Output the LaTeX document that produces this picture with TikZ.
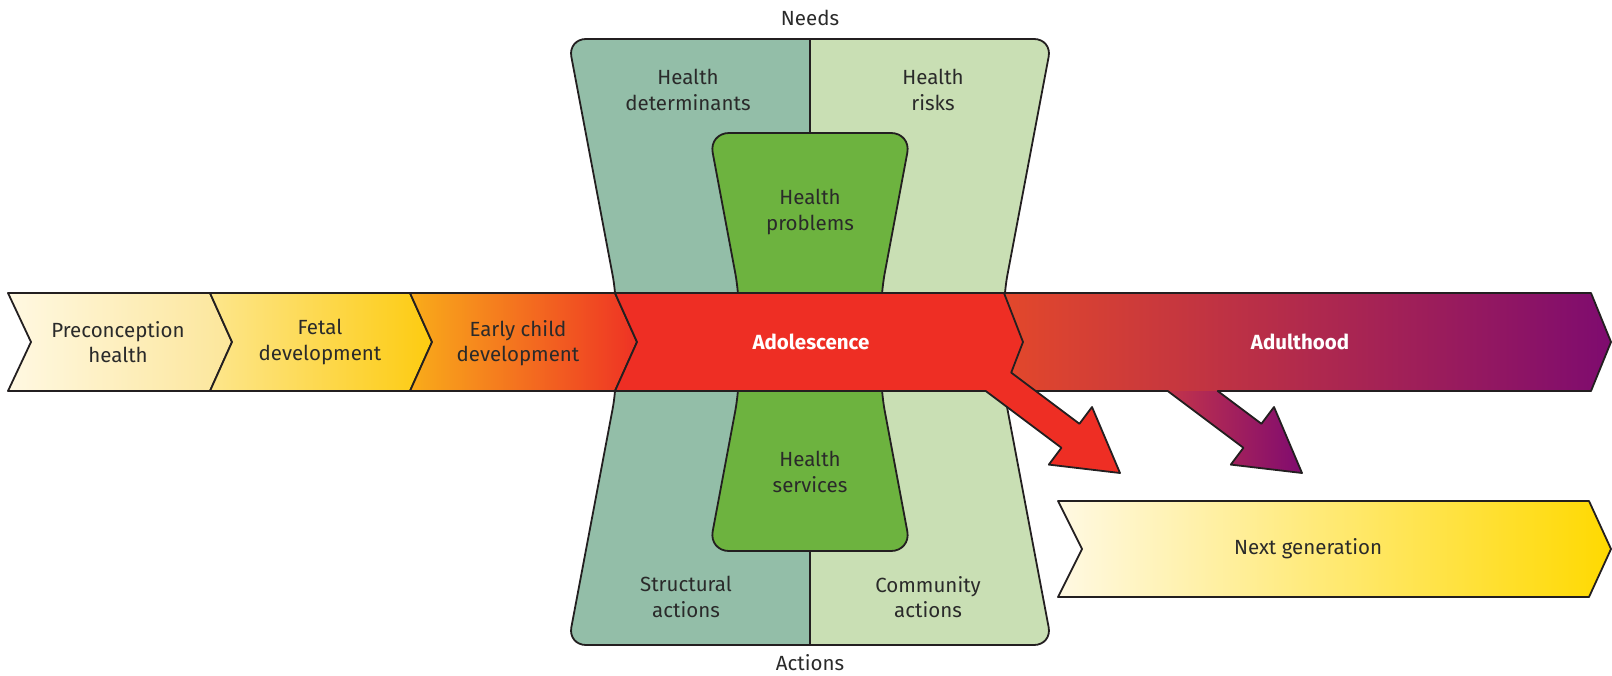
\documentclass[tikz,border=0pt]{standalone}
\usepackage{fontspec}
\setmainfont{Fira Sans}
\definecolor{lineclr}{HTML}{231F20}
\definecolor{txt}{HTML}{2A2A2A}
\definecolor{dgreen}{HTML}{93BEA8}
\definecolor{lgreen}{HTML}{C9DFB4}
\definecolor{mgreen}{HTML}{6DB33F}
\definecolor{adored}{HTML}{EE2E24}
\definecolor{pc1}{HTML}{FFF8E2}
\definecolor{pc2}{HTML}{FCE69A}
\definecolor{fe1}{HTML}{FDE68C}
\definecolor{fe2}{HTML}{FFDC0A}
\definecolor{fe3}{HTML}{FDCB10}
\definecolor{ec1}{HTML}{F9AC1A}
\definecolor{ec2}{HTML}{F28223}
\definecolor{ec3}{HTML}{EE3224}
\definecolor{ad1}{HTML}{E3482B}
\definecolor{ad2}{HTML}{AE2A58}
\definecolor{ad3}{HTML}{7E0B6F}
\definecolor{pa1}{HTML}{C3344B}
\definecolor{pa2}{HTML}{800B6F}
\definecolor{ng1}{HTML}{FFF9E3}
\definecolor{ng2}{HTML}{FDEA98}
\definecolor{ng3}{HTML}{FFD900}
\begin{document}
\begin{tikzpicture}[x=1pt,y=-1pt,
  outline/.style={draw=lineclr, line width=1.8pt, line join=round},
  lbl/.style={font=\fontsize{20.5}{25.5}\selectfont, text=txt, align=center, inner sep=0pt},
  wlbl/.style={font=\fontsize{20.5}{25.5}\selectfont\bfseries, text=white, align=center, inner sep=0pt}]
\useasboundingbox (0,0) rectangle (1612,675);

% ---------- hourglass (needs / actions) ----------
\def\outershape{(568,39) -- (1052,39) -- (1004,293) -- (1004,391) -- (1052,645) -- (568,645) -- (616,391) -- (616,293) -- cycle}
\def\innershape{(709,133) -- (911,133) -- (881,293) -- (881,391) -- (911,551) -- (709,551) -- (739,391) -- (739,293) -- cycle}
\path[fill=lgreen, rounded corners=18] \outershape;
\begin{scope}
  \clip (0,0) rectangle (810,675);
  \path[fill=dgreen, rounded corners=18] \outershape;
\end{scope}
\draw[lineclr, line width=1.5pt] (810,39) -- (810,133);
\draw[lineclr, line width=1.5pt] (810,551) -- (810,645);
\draw[outline, rounded corners=18] \outershape;
\draw[outline, fill=mgreen, rounded corners=20] \innershape;

% ---------- life-course band ----------
\draw[outline, left color=pc1, right color=pc2]
  (8,293) -- (210,293) -- (232,342) -- (210,391) -- (8,391) -- (31,342) -- cycle;
\draw[outline, left color=fe1, middle color=fe2, right color=fe3]
  (210,293) -- (410,293) -- (432,342) -- (410,391) -- (210,391) -- (232,342) -- cycle;
\draw[outline, left color=ec1, middle color=ec2, right color=ec3]
  (410,293) -- (615,293) -- (637,342) -- (615,391) -- (410,391) -- (432,342) -- cycle;

% adulthood + its arrow
\path[left color=ad1, middle color=ad2, right color=ad3]
  (1004,293) -- (1591,293) -- (1611,342) -- (1591,391) -- (1004,391) -- (1023,342) -- cycle;
\path[left color=pa1, right color=pa2]
  (1167.7,391) -- (1243.4,447.8) -- (1230.8,464.6) -- (1302,473) -- (1274,407)
  -- (1261.4,423.8) -- (1217.7,391) -- cycle;
\draw[outline]
  (1004,293) -- (1591,293) -- (1611,342) -- (1591,391) -- (1217.7,391)
  -- (1261.4,423.8) -- (1274,407) -- (1302,473) -- (1230.8,464.6)
  -- (1243.4,447.8) -- (1167.7,391) -- (1035,391);

% adolescence + its arrow
\draw[outline, fill=adored]
  (615,293) -- (1004,293) -- (1023,342) -- (1011.2,372.6) -- (1079.4,423.8)
  -- (1092,407) -- (1120,473) -- (1048.8,464.6) -- (1061.4,447.8)
  -- (985.7,391) -- (615,391) -- (637,342) -- cycle;

% next generation
\draw[outline, left color=ng1, middle color=ng2, right color=ng3]
  (1058,501) -- (1589,501) -- (1611,549) -- (1589,597) -- (1058,597) -- (1082,549) -- cycle;

% ---------- labels ----------
\node[lbl] (needs) at (810,18) {Needs};
\node[lbl] (actions) at (810,663) {Actions};
\node[lbl] (det) at (688,90) {Health\\determinants};
\node[lbl] (risks) at (933,90) {Health\\risks};
\node[lbl] (prob) at (810,212) {Health\\problems};
\node[lbl] (serv) at (810,472) {Health\\services};
\node[lbl] (struct) at (686,597) {Structural\\actions};
\node[lbl] (comm) at (928,597) {Community\\actions};
\node[lbl] (pre) at (118,342) {Preconception\\health};
\node[lbl] (fetal) at (320,342) {Fetal\\development};
\node[lbl] (early) at (518,343) {Early child\\development};
\node[wlbl] (ado) at (811,342) {Adolescence};
\node[wlbl] (adult) at (1300,342) {Adulthood};
\node[lbl] (next) at (1308,549) {Next generation};
\end{tikzpicture}
\end{document}
